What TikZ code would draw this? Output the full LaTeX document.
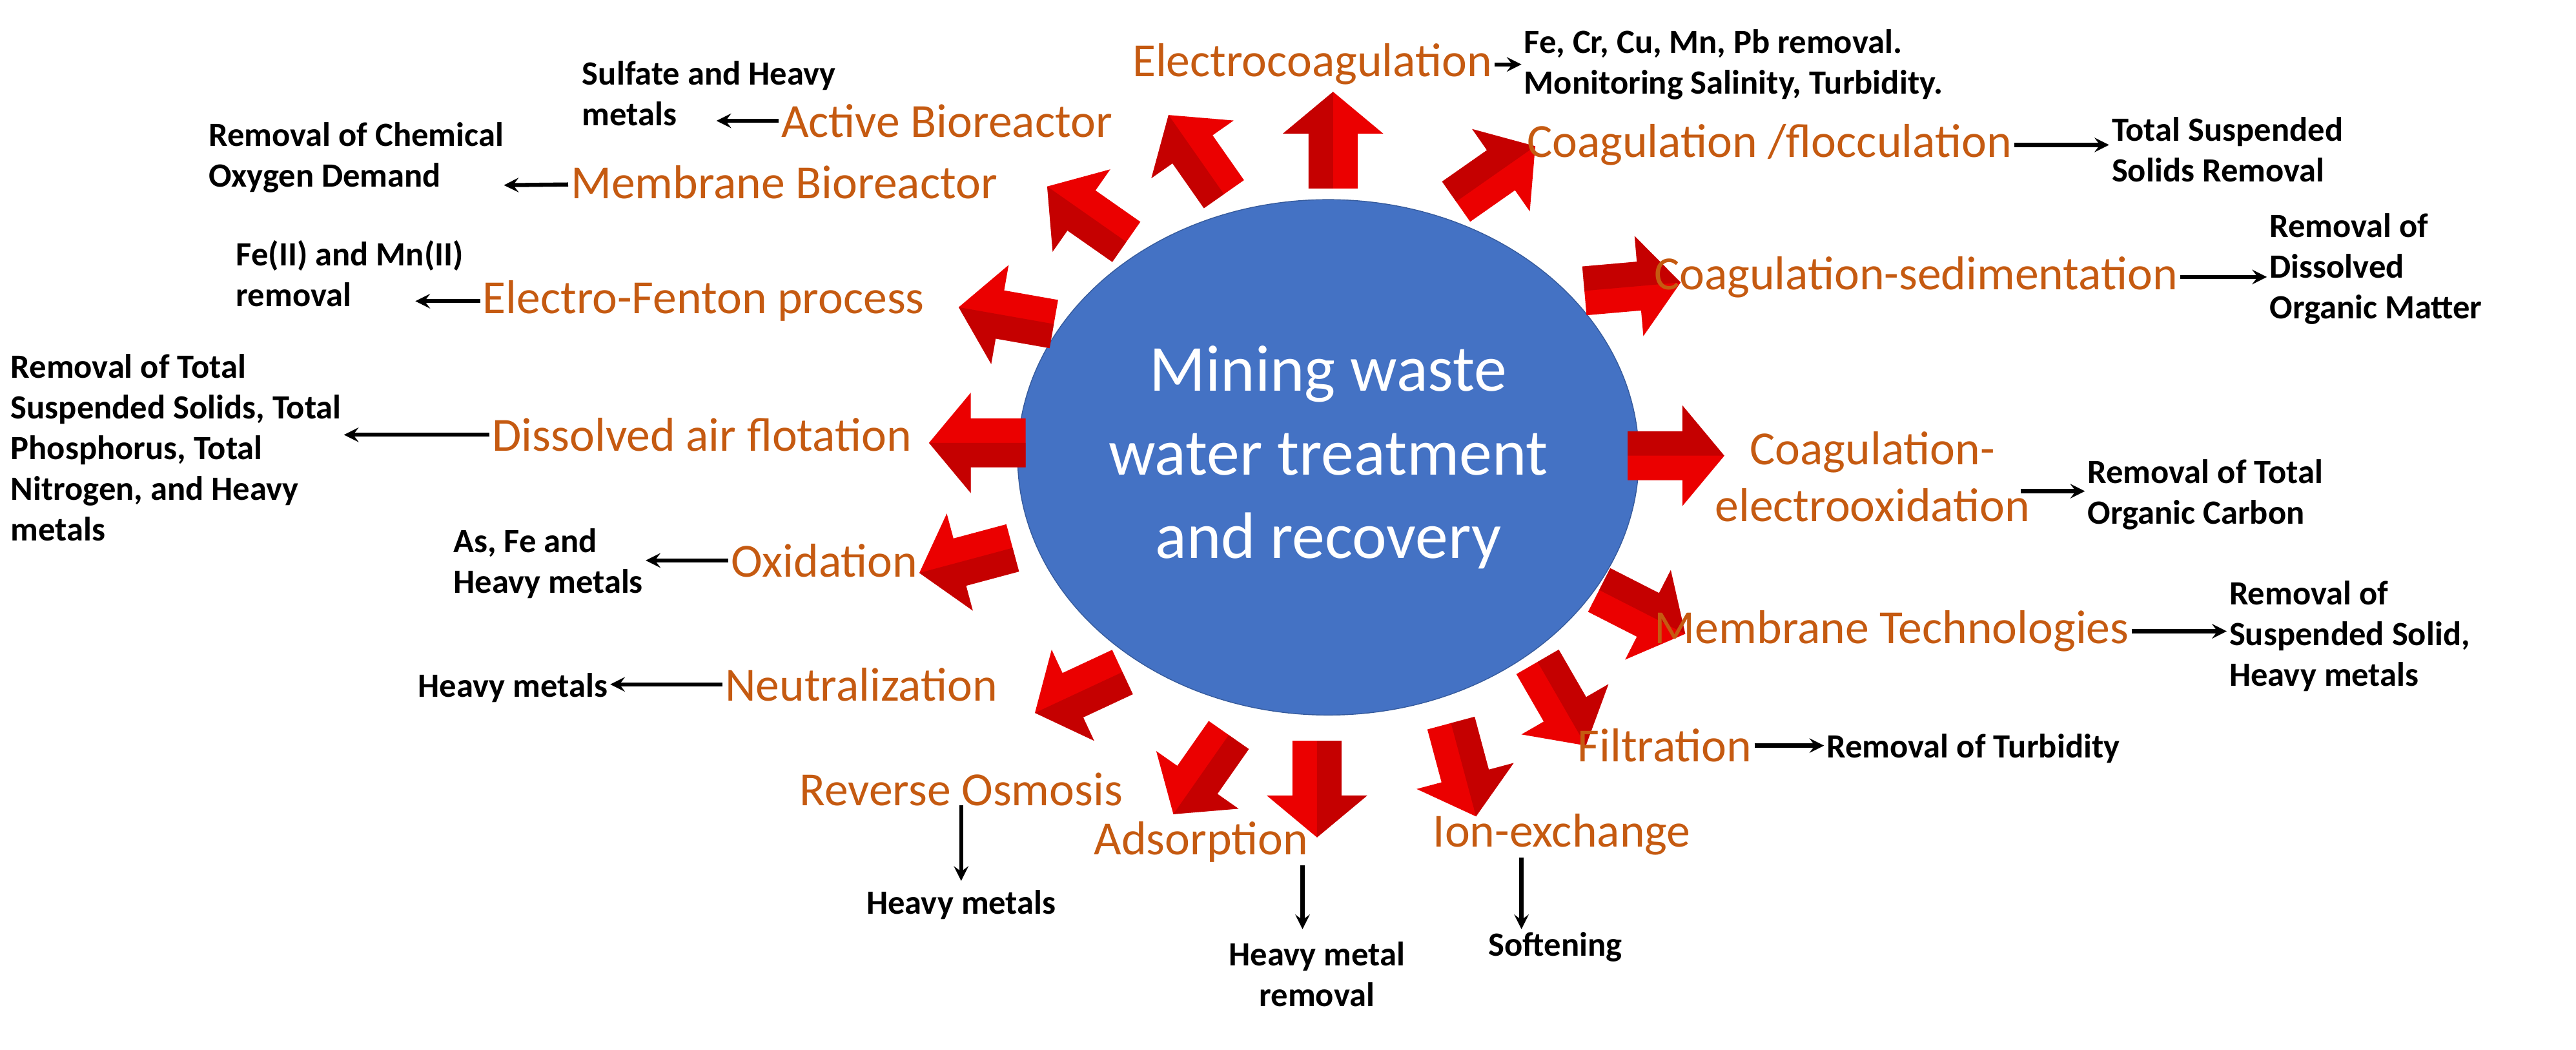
\documentclass[tikz,border=0pt]{standalone}
\usepackage{fontspec}
\setmainfont{Carlito}
\usetikzlibrary{shapes.geometric, arrows}
\definecolor{proc}{RGB}{197,90,17}
\definecolor{core}{RGB}{68,114,196}
\begin{document}
\begin{tikzpicture}[x=0.025cm, y=-0.025cm]

  \tikzstyle{method} = [text=proc, font=\fontsize{21}{25}\selectfont, align=center, inner sep=1pt]
  \tikzstyle{result} = [font=\fontsize{15}{18}\selectfont\bfseries, align=left, inner sep=1pt]
  \tikzstyle{arrow} = [line width=1.8pt,->,>=stealth]
  \tikzset{block/.pic={
    \fill [red!92!black] (-0.75cm,-0.38cm) -- (0.1cm,-0.38cm) -- (0.1cm,-0.78cm) -- (0.75cm,0cm) -- (0.1cm,0.78cm) -- (0.1cm,0.38cm) -- (-0.75cm,0.38cm) -- cycle;
    \fill [red!65!black, opacity=0.55] (-0.75cm,0cm) -- (0.75cm,0cm) -- (0.1cm,0.78cm) -- (0.1cm,0.38cm) -- (-0.75cm,0.38cm) -- cycle;
  }}

  \useasboundingbox (0,0) rectangle (1600,652);

  \node (hub) [ellipse, inner sep=0pt, minimum width=9.3cm, minimum height=8cm, draw=core!80!black, fill=core, text=white, align=center, font=\fontsize{29}{37}\selectfont] at (825,284) {Mining waste\\water treatment\\and recovery};

  % red arrows round the hub
  \foreach \x/\y/\ang in {828/87/90, 743/96/125, 675/133/145, 625/196/170, 607/275/180, 600/348/195, 670/430/205, 746/481/235, 818/490/270, 909/478/285, 970/437/300, 1020/380/333, 1041/283/0, 1014/178/5, 929/108/35}
    \pic [rotate=\ang] at (\x,\y) {block};

  % methods
  \node (ec) [method] at (815,40) {Electrocoagulation};
  \node (ab) [method] at (588,75) {Active Bioreactor};
  \node (mb) [method] at (487,113) {Membrane Bioreactor};
  \node (ef) [method] at (437,187) {Electro-Fenton process};
  \node (da) [method] at (436,270) {Dissolved air flotation};
  \node (ox) [method] at (512,348) {Oxidation};
  \node (ne) [method] at (535,425) {Neutralization};
  \node (ro) [method] at (597,490) {Reverse Osmosis};
  \node (ad) [method] at (746,523) {Adsorption};
  \node (ie) [method] at (970,518) {Ion-exchange};
  \node (fi) [method] at (1034,463) {Filtration};
  \node (mt) [method] at (1175,392) {Membrane Technologies};
  \node (ce) [method] at (1163,296) {Coagulation-\\electrooxidation};
  \node (cs) [method] at (1190,172) {Coagulation-sedimentation};
  \node (cf) [method] at (1099,90) {Coagulation /flocculation};

  % results
  \node (ec-r) [result, anchor=west] at (945,40) {Fe, Cr, Cu, Mn, Pb removal.\\Monitoring Salinity, Turbidity.};
  \node (ab-r) [result, anchor=west] at (360,58) {Sulfate and Heavy\\metals};
  \node (mb-r) [result, anchor=west] at (128,98) {Removal of Chemical\\Oxygen Demand};
  \node (ef-r) [result, anchor=west] at (145,170) {Fe(II) and Mn(II)\\removal};
  \node (da-r) [result, anchor=west] at (5,278) {Removal of Total\\Suspended Solids, Total\\Phosphorus, Total\\Nitrogen, and Heavy\\metals};
  \node (ox-r) [result, anchor=west] at (280,350) {As, Fe and\\Heavy metals};
  \node (ne-r) [result, anchor=west] at (258,427) {Heavy metals};
  \node (ro-r) [result] at (597,562) {Heavy metals};
  \node (ad-r) [result, align=center] at (818,605) {Heavy metal\\removal};
  \node (ie-r) [result] at (966,588) {Softening};
  \node (fi-r) [result, anchor=west] at (1133,465) {Removal of Turbidity};
  \node (mt-r) [result, anchor=west] at (1383,395) {Removal of\\Suspended Solid,\\Heavy metals};
  \node (ce-r) [result, anchor=west] at (1295,307) {Removal of Total\\Organic Carbon};
  \node (cs-r) [result, anchor=west] at (1408,167) {Removal of\\Dissolved\\Organic Matter};
  \node (cf-r) [result, anchor=west] at (1310,93) {Total Suspended\\Solids Removal};

  \coordinate (ab-e) at (445,75);
  \coordinate (mb-e) at (313,115);
  \coordinate (ef-e) at (258,187);
  \coordinate (ce-s) at (1255,305);
  \coordinate (ro-e) at (597,547);
  \coordinate (ad-e) at (809,577);
  \coordinate (ie-e) at (945,577);

  \draw [arrow] (ec) -- (ec.east -| ec-r.west);
  \draw [arrow] (ab) -- (ab-e);
  \draw [arrow] (mb) -- (mb-e);
  \draw [arrow] (ef) -- (ef-e);
  \draw [arrow] (da) -- (da.west -| da-r.east);
  \draw [arrow] (ox) -- (ox.west -| ox-r.east);
  \draw [arrow] (ne) -- (ne.west -| ne-r.east);
  \draw [arrow] (ro.south) ++(0,-2) -- (ro-e);
  \draw [arrow] (ad.south -| ad-e) -- (ad-e);
  \draw [arrow] (ie.south -| ie-e) -- (ie-e);
  \draw [arrow] (fi) -- (fi.east -| fi-r.west);
  \draw [arrow] (mt) -- (mt.east -| mt-r.west);
  \draw [arrow] (ce-s) -- (ce-s -| ce-r.west);
  \draw [arrow] (cs) -- (cs.east -| cs-r.west);
  \draw [arrow] (cf) -- (cf.east -| cf-r.west);

\end{tikzpicture}
\end{document}
